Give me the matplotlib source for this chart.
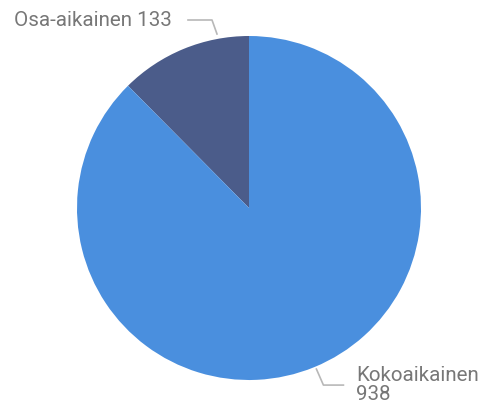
import numpy as np
import matplotlib
matplotlib.use("Agg")
import matplotlib.pyplot as plt

labels = ["Osa-aikainen", "Kokoaikainen"]
values = [133, 938]
colors = ["#4B5C8A", "#4A8FDE"]

W, H = 485, 410
fig = plt.figure(figsize=(W / 100, H / 100), dpi=100)
ax = fig.add_axes([0, 0, 1, 1])

cx, cy, r = 249, H - 209, 172
wedges, _ = ax.pie(values, colors=colors, startangle=90, counterclock=True,
                   center=(cx, cy), radius=r, frame=True,
                   wedgeprops=dict(linewidth=0))
ax.set_xlim(0, W)
ax.set_ylim(0, H)
ax.set_aspect("equal")
ax.axis("off")

txt_col = "#777777"
line_col = "#B8B8B8"
font = dict(family=["Roboto", "DejaVu Sans"], fontsize=14.8, color=txt_col)

# Label 1 (top-left)
ax.text(14, H - 21, f"{labels[0]} {values[0]}", ha="left", va="center", **font)
ax.plot([188, 212, 217], [H - 21, H - 21, H - 35], color=line_col, lw=1.2)

# Label 2 (bottom-right)
w2 = wedges[1]
mid = np.deg2rad((w2.theta1 + w2.theta2) / 2)
ex, ey = cx + r * np.cos(mid) + 2, cy + r * np.sin(mid) - 2
ax.plot([ex, ex + 7, ex + 27], [ey, ey - 16, ey - 16], color=line_col, lw=1.2)
ax.text(356, H - 385, f"{labels[1]}\n{values[1]}", ha="left", va="center",
        linespacing=0.95, **font)

fig.savefig("out.png", dpi=100, facecolor="white")
